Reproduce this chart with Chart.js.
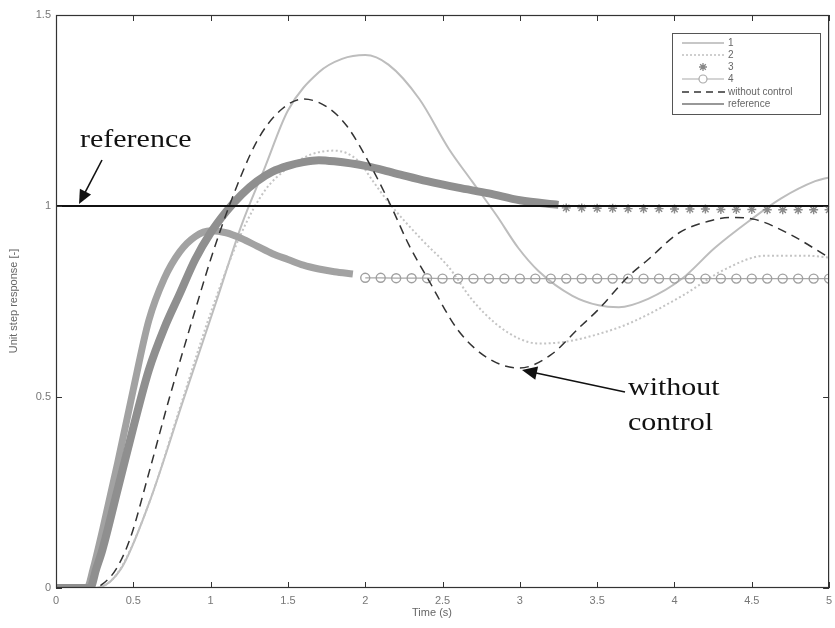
<!DOCTYPE html>
<html><head><meta charset="utf-8">
<script src="https://cdn.jsdelivr.net/npm/chart.js@4/dist/chart.umd.min.js"></script>
<style>html,body{margin:0;padding:0;background:#fff;}canvas{display:block;}</style>
</head><body>
<canvas id="c" width="835" height="628"></canvas>
<script>
// ---- tick labels ----
const xTicks = [0, 0.5, 1, 1.5, 2, 2.5, 3, 3.5, 4, 4.5, 5];
const yTicks = [0, 0.5, 1, 1.5];

// ---- series 1 (solid light gray) ----
const t1 = [0, 0.25, 0.42, 0.6, 0.83, 1.04, 1.2, 1.35, 1.5, 1.7, 1.85, 2.0, 2.15, 2.35, 2.54, 2.69, 2.85, 2.99, 3.12, 3.34, 3.51, 3.64, 3.83, 4.05, 4.26, 4.48, 4.69, 4.91, 5.0];
const y1 = [0, 0, 0.05, 0.22, 0.5, 0.754, 0.95, 1.1, 1.25, 1.35, 1.385, 1.395, 1.37, 1.28, 1.15, 1.065, 0.975, 0.89, 0.83, 0.765, 0.74, 0.735, 0.757, 0.81, 0.89, 0.96, 1.02, 1.065, 1.075];

// ---- series 2 (dotted light gray) ----
const t2 = [0, 0.25, 0.4, 0.6, 0.8, 1.0, 1.2, 1.35, 1.5, 1.65, 1.8, 1.95, 2.05, 2.15, 2.37, 2.54, 2.69, 2.85, 3.0, 3.12, 3.3, 3.51, 3.72, 4.05, 4.33, 4.59, 4.85, 5.0];
const y2 = [0, 0, 0.04, 0.22, 0.47, 0.72, 0.93, 1.04, 1.1, 1.135, 1.145, 1.12, 1.065, 1.01, 0.91, 0.84, 0.755, 0.69, 0.652, 0.64, 0.645, 0.665, 0.695, 0.765, 0.835, 0.87, 0.87, 0.865];

// ---- series 3 (stars): dense part + sparse tail ----
const t3 = [0, 0.22, 0.26, 0.3, 0.4, 0.5, 0.6, 0.7, 0.8, 0.9, 1.0, 1.1, 1.2, 1.3, 1.4, 1.5, 1.6, 1.7, 1.8, 2.0, 2.2, 2.4, 2.6, 2.8, 3.0, 3.25];
const y3 = [0, 0, 0.05, 0.1, 0.26, 0.42, 0.57, 0.68, 0.77, 0.86, 0.93, 0.985, 1.03, 1.065, 1.09, 1.105, 1.115, 1.12, 1.117, 1.105, 1.085, 1.065, 1.048, 1.033, 1.015, 1.003];
const t3tail = [3.3, 3.4, 3.5, 3.6, 3.7, 3.8, 3.9, 4.0, 4.1, 4.2, 4.3, 4.4, 4.5, 4.6, 4.7, 4.8, 4.9, 5.0];
const y3tail = [0.995, 0.995, 0.994, 0.994, 0.993, 0.993, 0.993, 0.992, 0.992, 0.992, 0.991, 0.991, 0.991, 0.99, 0.99, 0.99, 0.99, 0.99];

// ---- series 4 (circles): dense part + sparse tail ----
const t4 = [0, 0.2, 0.24, 0.3, 0.4, 0.5, 0.6, 0.7, 0.8, 0.9, 1.0, 1.1, 1.2, 1.3, 1.4, 1.5, 1.6, 1.7, 1.8, 1.92];
const y4 = [0, 0, 0.05, 0.15, 0.33, 0.52, 0.7, 0.81, 0.88, 0.92, 0.935, 0.93, 0.915, 0.895, 0.875, 0.86, 0.845, 0.835, 0.828, 0.822];
const t4tail = [2.0, 2.1, 2.2, 2.3, 2.4, 2.5, 2.6, 2.7, 2.8, 2.9, 3.0, 3.1, 3.2, 3.3, 3.4, 3.5, 3.6, 3.7, 3.8, 3.9, 4.0, 4.1, 4.2, 4.3, 4.4, 4.5, 4.6, 4.7, 4.8, 4.9, 5.0];
const y4tail = [0.812, 0.812, 0.811, 0.811, 0.811, 0.81, 0.81, 0.81, 0.81, 0.81, 0.81, 0.81, 0.81, 0.81, 0.81, 0.81, 0.81, 0.81, 0.81, 0.81, 0.81, 0.81, 0.81, 0.81, 0.81, 0.81, 0.81, 0.81, 0.81, 0.81, 0.81];

// ---- without control (dashed) ----
const t0 = [0, 0.25, 0.3, 0.39, 0.48, 0.6, 0.735, 0.92, 1.0, 1.12, 1.3, 1.45, 1.6, 1.75, 1.88, 2.05, 2.17, 2.28, 2.41, 2.6, 2.8, 3.0, 3.2, 3.38, 3.51, 3.7, 3.83, 4.03, 4.22, 4.37, 4.52, 4.75, 5.0];
const y0 = [0, 0, 0.01, 0.05, 0.13, 0.3, 0.5, 0.754, 0.86, 1.0, 1.17, 1.25, 1.28, 1.26, 1.21, 1.094, 0.997, 0.9, 0.806, 0.675, 0.6, 0.576, 0.61, 0.68, 0.73, 0.815, 0.86, 0.93, 0.96, 0.97, 0.965, 0.925, 0.865];

// ---- reference ----
const tRef = [0, 5];
const yRef = [1, 1];

const legendLabels = ['1', '2', '3', '4', 'without control', 'reference'];

const pts = (t, y) => t.map((v, i) => ({x: v, y: y[i]}));

const overlay = {
  id: 'overlay',
  afterDatasetsDraw(chart) {
    const ctx = chart.ctx, xs = chart.scales.x, ys = chart.scales.y;
    const a = chart.chartArea;
    ctx.save();
    // frame
    ctx.strokeStyle = '#333'; ctx.lineWidth = 1.2;
    ctx.strokeRect(a.left + 0.5, a.top + 0.5, a.right - a.left - 1, a.bottom - a.top - 1);
    // inner ticks
    ctx.lineWidth = 1; ctx.strokeStyle = '#333';
    xTicks.forEach(v => {
      const px = Math.round(xs.getPixelForValue(v)) + 0.5;
      ctx.beginPath();
      ctx.moveTo(px, a.bottom); ctx.lineTo(px, a.bottom - 6);
      ctx.moveTo(px, a.top); ctx.lineTo(px, a.top + 6);
      ctx.stroke();
    });
    yTicks.forEach(v => {
      const py = Math.round(ys.getPixelForValue(v)) + 0.5;
      ctx.beginPath();
      ctx.moveTo(a.left, py); ctx.lineTo(a.left + 6, py);
      ctx.moveTo(a.right, py); ctx.lineTo(a.right - 6, py);
      ctx.stroke();
    });
    // axis titles
    ctx.fillStyle = '#666';
    ctx.font = '11px "Liberation Sans", Arial, sans-serif';
    ctx.textAlign = 'center'; ctx.textBaseline = 'middle';
    ctx.fillText('Time (s)', 432, 613);
    ctx.save();
    ctx.translate(14, 301); ctx.rotate(-Math.PI / 2);
    ctx.fillText('Unit step response [-]', 0, 0);
    ctx.restore();

    // legend
    const L = 672, T = 33, R = 820, B = 114;
    ctx.fillStyle = '#fff'; ctx.fillRect(L, T, R - L, B - T);
    ctx.strokeStyle = '#555'; ctx.lineWidth = 1;
    ctx.strokeRect(L + 0.5, T + 0.5, R - L, B - T);
    const rowY = [43, 55, 67, 79, 92, 104];
    const x0 = 682, x1 = 724, xm = 703;
    ctx.font = '10px "Liberation Sans", Arial, sans-serif';
    ctx.textAlign = 'left'; ctx.textBaseline = 'middle';
    legendLabels.forEach((lab, i) => {
      const y = rowY[i];
      ctx.save();
      ctx.beginPath();
      if (i === 0) { ctx.strokeStyle = '#b5b5b5'; ctx.lineWidth = 1.5; ctx.moveTo(x0, y); ctx.lineTo(x1, y); ctx.stroke(); }
      if (i === 1) { ctx.strokeStyle = '#c0c0c0'; ctx.lineWidth = 1.5; ctx.setLineDash([2, 2]); ctx.moveTo(x0, y); ctx.lineTo(x1, y); ctx.stroke(); }
      if (i === 2) { ctx.strokeStyle = '#888'; ctx.lineWidth = 1.3;
        for (let k = 0; k < 4; k++) { const an = k * Math.PI / 4; ctx.moveTo(xm - 4 * Math.cos(an), y - 4 * Math.sin(an)); ctx.lineTo(xm + 4 * Math.cos(an), y + 4 * Math.sin(an)); }
        ctx.stroke(); }
      if (i === 3) { ctx.strokeStyle = '#aaa'; ctx.lineWidth = 1.2; ctx.moveTo(x0, y); ctx.lineTo(xm - 4, y); ctx.moveTo(xm + 4, y); ctx.lineTo(x1, y); ctx.stroke();
        ctx.beginPath(); ctx.arc(xm, y, 4, 0, 2 * Math.PI); ctx.stroke(); }
      if (i === 4) { ctx.strokeStyle = '#333'; ctx.lineWidth = 1.3; ctx.setLineDash([7, 5]); ctx.moveTo(x0, y); ctx.lineTo(x1 + 2, y); ctx.stroke(); }
      if (i === 5) { ctx.strokeStyle = '#333'; ctx.lineWidth = 1.2; ctx.moveTo(x0, y); ctx.lineTo(x1, y); ctx.stroke(); }
      ctx.restore();
      ctx.fillStyle = '#666';
      ctx.fillText(lab, 728, y);
    });

    // annotations
    const arrow = (xa, ya, xb, yb, head) => {
      ctx.strokeStyle = '#111'; ctx.fillStyle = '#111'; ctx.lineWidth = 1.6;
      const ang = Math.atan2(yb - ya, xb - xa);
      ctx.beginPath(); ctx.moveTo(xa, ya);
      ctx.lineTo(xb - head * 0.8 * Math.cos(ang), yb - head * 0.8 * Math.sin(ang)); ctx.stroke();
      ctx.beginPath(); ctx.moveTo(xb, yb);
      ctx.lineTo(xb - head * Math.cos(ang) + head * 0.45 * Math.sin(ang), yb - head * Math.sin(ang) - head * 0.45 * Math.cos(ang));
      ctx.lineTo(xb - head * Math.cos(ang) - head * 0.45 * Math.sin(ang), yb - head * Math.sin(ang) + head * 0.45 * Math.cos(ang));
      ctx.closePath(); ctx.fill();
    };
    ctx.fillStyle = '#111';
    ctx.font = '25px "Liberation Serif", "Times New Roman", serif';
    ctx.textAlign = 'left'; ctx.textBaseline = 'alphabetic';
    ctx.save(); ctx.translate(80, 147); ctx.scale(1.2, 1); ctx.fillText('reference', 0, 0); ctx.restore();
    ctx.save(); ctx.translate(628, 395); ctx.scale(1.2, 1); ctx.fillText('without', 0, 0); ctx.restore();
    ctx.save(); ctx.translate(628, 430); ctx.scale(1.2, 1); ctx.fillText('control', 0, 0); ctx.restore();
    arrow(102, 160, 79, 204, 14);
    arrow(625, 392, 522, 370, 15);
    ctx.restore();
  }
};

const fmt = v => String(Math.round(v * 10) / 10);

new Chart(document.getElementById('c'), {
  type: 'line',
  data: {
    datasets: [
      { label: 'reference', data: pts(tRef, yRef), borderColor: '#111', borderWidth: 2, pointRadius: 0, order: 0 },
      { label: 'without control', data: pts(t0, y0), borderColor: '#333', borderWidth: 1.5, borderDash: [9, 6], pointRadius: 0, cubicInterpolationMode: 'monotone', order: 1 },
      { label: '3', data: pts(t3tail, y3tail), showLine: false, pointStyle: 'star', pointRadius: 4.5, borderColor: '#8a8a8a', borderWidth: 1.4, order: 2 },
      { label: '3', data: pts(t3, y3), borderColor: '#8f8f8f', borderWidth: 8, pointRadius: 0, cubicInterpolationMode: 'monotone', order: 3 },
      { label: '4', data: pts(t4tail, y4tail), borderColor: '#a8a8a8', borderWidth: 1.2, pointStyle: 'circle', pointRadius: 4.5, pointBackgroundColor: 'rgba(255,255,255,0)', pointBorderColor: '#a0a0a0', pointBorderWidth: 1.4, order: 4 },
      { label: '4', data: pts(t4, y4), borderColor: '#a2a2a2', borderWidth: 7, pointRadius: 0, cubicInterpolationMode: 'monotone', order: 5 },
      { label: '2', data: pts(t2, y2), borderColor: '#c4c4c4', borderWidth: 2, borderDash: [2, 2.5], pointRadius: 0, cubicInterpolationMode: 'monotone', order: 6 },
      { label: '1', data: pts(t1, y1), borderColor: '#bdbdbd', borderWidth: 2, pointRadius: 0, cubicInterpolationMode: 'monotone', order: 7 }
    ]
  },
  options: {
    responsive: false, animation: false,
    layout: { padding: { left: 0, top: 15, right: 2, bottom: 0 } },
    plugins: { legend: { display: false }, tooltip: { enabled: false } },
    scales: {
      x: {
        type: 'linear', min: 0, max: 5,
        afterBuildTicks: s => { s.ticks = xTicks.map(v => ({ value: v })); },
        afterFit: s => { s.height = 40; s.paddingLeft = 0; s.paddingRight = 0; },
        grid: { display: false, drawTicks: false }, border: { display: false },
        ticks: { padding: 6, color: '#777', font: { family: '"Liberation Sans", Arial, sans-serif', size: 11 }, maxRotation: 0, autoSkip: false, callback: fmt }
      },
      y: {
        type: 'linear', min: 0, max: 1.5,
        afterBuildTicks: s => { s.ticks = yTicks.map(v => ({ value: v })); },
        afterFit: s => { s.width = 56; s.paddingTop = 0; s.paddingBottom = 0; },
        grid: { display: false, drawTicks: false }, border: { display: false },
        ticks: { padding: 5, color: '#777', font: { family: '"Liberation Sans", Arial, sans-serif', size: 11 }, callback: fmt }
      }
    }
  },
  plugins: [overlay]
});
</script>
</body></html>
